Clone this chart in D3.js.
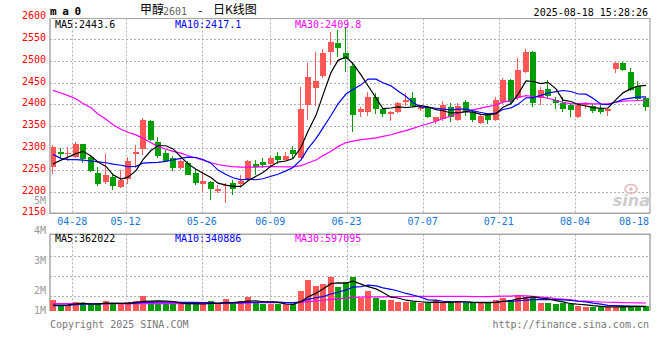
<!DOCTYPE html>
<html><head><meta charset="utf-8">
<script src="https://cdn.jsdelivr.net/npm/d3@7"></script>
<style>body{margin:0;background:#fff}svg{display:block}</style>
</head><body>
<svg id="c" width="660" height="360"></svg>
<script>
// ---------- DATA ----------
const dates = ["04-23","04-24","04-25","04-28","04-29","04-30","05-06","05-07","05-08","05-09",
"05-12","05-13","05-14","05-15","05-16","05-19","05-20","05-21","05-22","05-23",
"05-26","05-27","05-28","05-29","05-30","06-03","06-04","06-05","06-06","06-09",
"06-10","06-11","06-12","06-13","06-16","06-17","06-18","06-19","06-20","06-23",
"06-24","06-25","06-26","06-27","06-30","07-01","07-02","07-03","07-04","07-07",
"07-08","07-09","07-10","07-11","07-14","07-15","07-16","07-17","07-18","07-21",
"07-22","07-23","07-24","07-25","07-28","07-29","07-30","07-31","08-01","08-04",
"08-05","08-06","08-07","08-08","08-11","08-12","08-13","08-14","08-15","08-18"];
const open  = [2257,2291,2285,2280,2309,2280,2242,2221,2234,2211,2229,2286,2297,2362,2314,2288,2277,2255,2266,2243,
2218,2221,2202,2213,2219,2218,2226,2263,2267,2263,2281,2272,2295,2277,2398,2438,2466,2521,2540,2517,
2488,2382,2382,2418,2389,2379,2383,2406,2414,2389,2393,2362,2366,2393,2364,2406,2383,2358,2375,2364,
2406,2456,2414,2475,2521,2414,2435,2410,2404,2398,2372,2398,2396,2390,2385,2482,2496,2474,2441,2414];
const high  = [2307,2299,2303,2313,2310,2283,2257,2286,2242,2249,2280,2307,2369,2363,2324,2295,2281,2276,2270,2252,
2245,2223,2215,2219,2226,2238,2272,2272,2278,2282,2290,2290,2305,2440,2494,2521,2527,2567,2570,2578,
2498,2394,2428,2426,2392,2384,2405,2426,2428,2397,2397,2372,2408,2404,2403,2409,2386,2376,2380,2418,
2460,2458,2506,2526,2522,2439,2456,2418,2418,2400,2401,2406,2400,2398,2392,2497,2498,2483,2454,2416];
const low   = [2240,2276,2270,2276,2265,2245,2213,2217,2203,2207,2217,2253,2284,2315,2276,2267,2246,2250,2237,2216,
2200,2180,2196,2174,2192,2207,2224,2238,2253,2258,2263,2271,2277,2276,2364,2396,2460,2490,2508,2475,
2336,2372,2373,2378,2370,2362,2380,2397,2393,2385,2368,2356,2362,2360,2362,2373,2360,2356,2355,2362,
2400,2402,2410,2473,2394,2398,2414,2389,2383,2372,2368,2389,2380,2378,2373,2471,2477,2431,2410,2384];
const close = [2301,2287,2288,2310,2275,2248,2217,2238,2213,2226,2271,2291,2364,2318,2281,2271,2255,2271,2239,2220,
2225,2206,2206,2216,2206,2225,2270,2257,2261,2278,2272,2282,2286,2389,2463,2454,2517,2542,2529,2503,
2375,2389,2418,2389,2379,2383,2402,2411,2396,2393,2370,2370,2398,2370,2396,2383,2364,2373,2363,2410,
2456,2406,2479,2519,2402,2433,2420,2404,2389,2387,2399,2402,2385,2382,2390,2496,2479,2433,2412,2395];
// volume, in millions
const volume = [0.85,0.46,0.46,0.67,0.59,0.51,0.51,0.77,0.59,0.51,0.67,0.77,1.15,0.72,0.59,0.59,0.59,0.51,0.51,0.59,
0.51,0.77,0.51,0.92,0.51,0.77,1.10,0.67,0.51,0.51,0.51,0.51,0.51,1.54,2.38,1.92,2.08,2.59,1.87,2.25,
2.64,1.02,1.56,1.02,0.85,0.85,0.72,0.72,0.67,0.59,0.59,0.85,0.67,0.67,0.77,0.59,0.59,0.59,0.72,0.85,
1.02,0.85,1.23,1.10,1.18,0.59,0.59,0.54,0.59,0.51,0.36,0.33,0.28,0.32,0.32,0.30,0.38,0.38,0.38,0.36];
const ma5 = [2263,2272,2279,2287,2292.2,2281.6,2267.6,2257.6,2238.2,2228.4,2233,2247.8,2273,2294,2305,2305,2297.8,2279.2,2263.4,2251.2,
2242,2232.2,2219.2,2214.6,2211.8,2211.8,2224.6,2234.8,2243.8,2258.2,2267.6,2270,2275.8,2301.4,2338.4,2374.8,2421.8,2473,2501,2509,
2493.2,2467.6,2442.8,2414.8,2390,2391.6,2394.2,2392.8,2394.2,2397,2394.4,2388,2385.4,2380.2,2380.8,2383.4,2382.2,2377.2,2375.8,2378.6,
2393.2,2401.6,2422.8,2454,2452.4,2447.8,2450.6,2435.6,2409.6,2406.6,2399.8,2396.2,2392.4,2391,2391.6,2411,2426.4,2436,2442,2443.6];
const ma10 = [2285,2276,2273,2273,2272,2270,2268,2266,2263,2260.3,2257.3,2257.7,2265.3,2266.1,2266.7,2269,2272.8,2276.1,2278.7,2278.1,
2273.5,2265,2249.2,2239,2231.5,2226.9,2228.4,2227,2229.2,2235,2239.7,2247.3,2255.3,2272.6,2298.3,2321.2,2345.9,2374.4,2401.2,2423.7,
2434,2444.7,2457.9,2457.9,2449.5,2442.4,2430.9,2417.8,2404.5,2393.5,2393,2391.1,2389.1,2387.2,2388.9,2388.9,2385.1,2381.3,2378,2379.7,
2388.3,2391.9,2400,2414.9,2415.5,2420.5,2426.1,2429.2,2431.8,2429.5,2423.8,2423.4,2414,2400.3,2399.1,2405.4,2411.3,2414.2,2416.5,2417.1];
const ma30 = [2432,2426,2420,2413,2402,2392,2378,2366,2353,2343,2336,2330,2322,2312,2303,2297,2292,2288,2282,2277,
2272,2266,2262,2259,2257,2256,2256,2256,2257,2257.8,2256.8,2256.7,2256.6,2259.2,2265.5,2272.4,2282.4,2292.5,2303,2312.3,
2315.8,2319,2320.8,2323.2,2326.5,2330.2,2335.1,2339.8,2345,2350.8,2355.6,2361.1,2367.5,2372.6,2379,2384.2,2387.4,2391.2,2394.6,2399,
2405.2,2409.3,2415.7,2420.1,2418,2417.3,2414.1,2409.5,2404.8,2401,2401.8,2402.2,2401.1,2400.9,2401.2,2405,2407.6,2408.3,2408.9,2409.8];
const volMa5 = [0.46,0.46,0.47,0.55,0.61,0.54,0.55,0.61,0.59,0.58,0.61,0.66,0.74,0.76,0.78,0.76,0.73,0.60,0.56,0.56,
0.54,0.58,0.58,0.66,0.64,0.70,0.76,0.79,0.71,0.71,0.66,0.54,0.51,0.72,1.09,1.37,1.69,2.10,2.17,2.14,
2.29,2.07,1.87,1.70,1.42,1.06,1.00,0.83,0.76,0.71,0.66,0.68,0.67,0.67,0.71,0.71,0.66,0.64,0.65,0.67,
0.75,0.81,0.93,1.01,1.08,0.99,0.94,0.80,0.70,0.56,0.52,0.47,0.41,0.36,0.32,0.31,0.32,0.34,0.35,0.36];
const volMa10 = [0.42,0.42,0.43,0.48,0.52,0.54,0.55,0.57,0.58,0.59,0.57,0.61,0.67,0.68,0.68,0.69,0.70,0.67,0.66,0.67,
0.65,0.65,0.59,0.61,0.60,0.62,0.67,0.69,0.69,0.68,0.68,0.65,0.65,0.71,0.90,1.02,1.11,1.31,1.44,1.62,
1.83,1.88,1.99,1.93,1.78,1.67,1.54,1.35,1.23,1.06,0.86,0.84,0.75,0.72,0.71,0.68,0.67,0.66,0.66,0.69,
0.73,0.73,0.79,0.83,0.87,0.87,0.87,0.87,0.85,0.82,0.75,0.70,0.61,0.53,0.44,0.41,0.39,0.38,0.36,0.34];
const volMa30 = [0.56,0.56,0.56,0.56,0.56,0.56,0.56,0.56,0.56,0.56,0.56,0.56,0.56,0.56,0.56,0.56,0.56,0.56,0.56,0.56,
0.57,0.58,0.59,0.60,0.61,0.62,0.63,0.64,0.64,0.646,0.635,0.637,0.638,0.667,0.727,0.774,0.826,0.887,0.930,0.988,
1.053,1.062,1.075,1.085,1.094,1.103,1.107,1.114,1.119,1.119,1.122,1.125,1.130,1.122,1.130,1.124,1.107,1.105,1.112,1.123,
1.140,1.151,1.175,1.161,1.121,1.076,1.027,0.958,0.916,0.858,0.782,0.759,0.716,0.693,0.675,0.657,0.645,0.634,0.624,0.617];
const priceTicks = [2600,2550,2500,2450,2400,2350,2300,2250,2200,2150];
const dateTicks = ["04-28","05-12","05-26","06-09","06-23","07-07","07-21","08-04","08-18"];
const volTicks = [1,2,3,4,5];
const volTickLabels = ["1M","2M","3M","4M","5M"];
const priceLegend = ["MA5:2443.6","MA10:2417.1","MA30:2409.8"];
const volLegend = ["MA5:362022","MA10:340886","MA30:597095"];
const titleText = ["甲醇","2601","-","日K线图"];
const stampText = "2025-08-18 15:28:26";

// ---------- LAYOUT ----------
const L=50, R=650, T=18.5, B=213.3, VT=234.3, VB=311;
const UP="#ff5656", DN="#009e00", GRID="#b0b0b0", FRAME="#a6a6a6";
const MONO="'DejaVu Sans Mono', monospace";
const svg = d3.select("#c");
svg.append("rect").attr("width",660).attr("height",360).attr("fill","#fff");

const x = d3.scaleBand().domain(dates).range([49.6, 649.6]).paddingInner(0.2).paddingOuter(0.1);
const bw = Math.round(x.bandwidth());
const xl = d => Math.round(x(d));
const xc = d => Math.round(x(d)) + bw/2;
const y = d3.scaleLinear().domain([2150, 2600]).range([213.3, 17.2]);
const vy = d3.scaleLinear().domain([0, 6]).range([VB, VB - 78]);
const gx = d3.scaleLinear().domain([3, 69]).range([72.3, 575]);   // date grid positions by trading-day index
const vLab = d3.scaleLinear().domain([1, 5]).range([320.7, 200.7]);
const idx = d3.range(dates.length);
const px = v => Math.round(v) + 0.5;

// ---------- GRID ----------
const grid = svg.append("g").attr("stroke", GRID).attr("stroke-dasharray","2,2").attr("stroke-width",1);
priceTicks.filter(v => v < 2600 && v > 2150).forEach(v => {
  grid.append("line").attr("x1", L).attr("x2", R).attr("y1", px(y(v))).attr("y2", px(y(v)));
});
[VT + 21.4, VT + 41.4, VT + 61.4].forEach(yy => {
  grid.append("line").attr("x1", L).attr("x2", R).attr("y1", px(yy)).attr("y2", px(yy));
});
dateTicks.forEach(t => {
  const gxv = gx(dates.indexOf(t));
  if (gxv < R - 2) {
    grid.append("line").attr("x1", px(gxv)).attr("x2", px(gxv)).attr("y1", T).attr("y2", B);
    grid.append("line").attr("x1", px(gxv)).attr("x2", px(gxv)).attr("y1", VT).attr("y2", VB);
  }
});

// ---------- WATERMARK ----------
const wm = svg.append("g");
wm.append("ellipse").attr("cx", 631).attr("cy", 189).attr("rx", 6).attr("ry", 4.5)
  .attr("fill","none").attr("stroke","#e3b9b9").attr("stroke-width",1.6);
wm.append("circle").attr("cx", 631).attr("cy", 189).attr("r", 1.8).attr("fill","#e3b9b9");
wm.append("text").attr("x", 650).attr("y", 206).attr("text-anchor","end")
  .attr("font-family","'DejaVu Sans', sans-serif").attr("font-style","italic").attr("font-weight","bold")
  .attr("font-size", 16).attr("fill","#cdcdcd").text("sina");

// ---------- FRAMES ----------
const fr = svg.append("g").attr("stroke", FRAME).attr("stroke-width", 1.5).attr("fill","none");
fr.append("path").attr("d", `M${L},${T}H${R}V${B}`).attr("stroke-width",1.2);
fr.append("path").attr("d", `M${L},${T}V${B}H${R}`);
fr.append("path").attr("d", `M${L},${VB}V${VT}H${R}V${VB}`);

// ---------- VOLUME ----------
const isUp = i => close[i] >= open[i];
svg.append("g").selectAll("rect").data(idx).join("rect")
  .attr("x", i => xl(dates[i])).attr("width", bw)
  .attr("y", i => Math.round(vy(volume[i])))
  .attr("height", i => VB - Math.round(vy(volume[i])))
  .attr("fill", i => isUp(i) ? UP : DN);

const vline = arr => d3.line().x((d,i) => xc(dates[i])).y(d => vy(d))(arr);
[[volMa30,"#ff00ff"],[volMa10,"#0000ff"],[volMa5,"#000"]].forEach(([a,c]) => {
  svg.append("path").attr("d", vline(a)).attr("fill","none").attr("stroke", c).attr("stroke-width",1.2);
});

// ---------- CANDLES ----------
svg.append("clipPath").attr("id","mc").append("rect").attr("x",L+1).attr("y",T).attr("width",R-L-1).attr("height",B-T);
const cg = svg.append("g").attr("clip-path","url(#mc)");
cg.selectAll("line").data(idx).join("line")
  .attr("x1", i => xl(dates[i]) + 2.5).attr("x2", i => xl(dates[i]) + 2.5)
  .attr("y1", i => Math.round(y(high[i]))).attr("y2", i => Math.round(y(low[i])))
  .attr("stroke", i => isUp(i) ? UP : DN).attr("stroke-width", 1);
cg.selectAll("rect").data(idx).join("rect")
  .attr("x", i => xl(dates[i])).attr("width", bw)
  .attr("y", i => Math.round(y(Math.max(open[i], close[i]))))
  .attr("height", i => Math.max(1, Math.round(y(Math.min(open[i], close[i]))) - Math.round(y(Math.max(open[i], close[i])))))
  .attr("fill", i => isUp(i) ? UP : DN);

const pline = arr => d3.line().x((d,i) => xc(dates[i])).y(d => y(d))(arr);
[[ma30,"#ff00ff"],[ma10,"#0000ff"],[ma5,"#000"]].forEach(([a,c]) => {
  cg.append("path").attr("d", pline(a)).attr("fill","none").attr("stroke", c).attr("stroke-width",1.2);
});

// ---------- TEXT ----------
const tx = svg.append("g").attr("font-family", MONO).attr("font-size", 10);
priceTicks.forEach(v => {
  tx.append("text").attr("x", 46).attr("y", y(v) - 1).attr("text-anchor","end")
    .attr("dominant-baseline","middle").attr("fill","#f00").text(v);
});
volTicks.forEach((v,k) => {
  tx.append("text").attr("x", 46).attr("y", Math.min(vLab(v), VB)).attr("text-anchor","end")
    .attr("dominant-baseline","middle").attr("fill","#9a9a9a").text(volTickLabels[k]);
});
dateTicks.forEach(t => {
  let g = gx(dates.indexOf(t));
  const last = g > R - 16;
  tx.append("text").attr("x", last ? R - 1 : g).attr("y", 222)
    .attr("text-anchor", last ? "end" : "middle").attr("dominant-baseline","middle")
    .attr("fill","#1677d6").text(t);
});
const legCols = ["#000","#0000ff","#ff00ff"], legX = [55,175,295];
priceLegend.forEach((s,k) => tx.append("text").attr("x", legX[k]).attr("y", 24.5)
  .attr("dominant-baseline","middle").attr("fill", legCols[k]).text(s));
volLegend.forEach((s,k) => tx.append("text").attr("x", legX[k]).attr("y", 239)
  .attr("dominant-baseline","middle").attr("fill", legCols[k]).text(s));

// header
tx.append("text").attr("x", 50).attr("y", 12).attr("dominant-baseline","middle")
  .attr("font-size", 11).attr("font-weight","bold").attr("letter-spacing", 5.6).attr("fill","#000").text("ma0");
const CJK = "'Noto Sans CJK SC', sans-serif";
svg.append("text").attr("x", 140).attr("y", 11).attr("dominant-baseline","middle")
  .attr("font-family", CJK).attr("font-size", 12).attr("fill","#000").text(titleText[0]);
svg.append("text").attr("x", 163).attr("y", 11.5).attr("dominant-baseline","middle")
  .attr("font-family", MONO).attr("font-size", 10).attr("fill","#666").text(titleText[1]);
svg.append("text").attr("x", 197).attr("y", 11).attr("dominant-baseline","middle")
  .attr("font-family", MONO).attr("font-size", 11).attr("fill","#000").text(titleText[2]);
svg.append("text").attr("x", 213).attr("y", 11).attr("dominant-baseline","middle")
  .attr("font-family", CJK).attr("font-size", 12).attr("fill","#000").text(titleText[3]);
tx.append("text").attr("x", 648).attr("y", 12.5).attr("text-anchor","end").attr("dominant-baseline","middle")
  .attr("fill","#000").text(stampText);

// footer
tx.append("text").attr("x", 50).attr("y", 324.5).attr("dominant-baseline","middle")
  .attr("fill","#777").text("Copyright 2025 SINA.COM");
tx.append("text").attr("x", 649).attr("y", 324.5).attr("text-anchor","end").attr("dominant-baseline","middle")
  .attr("fill","#777").text("http://finance.sina.com.cn");
</script>
</body></html>
